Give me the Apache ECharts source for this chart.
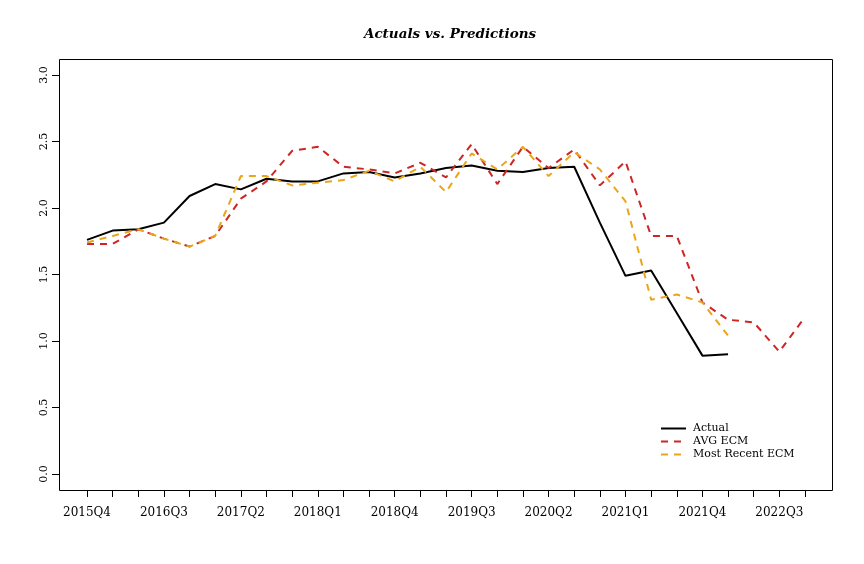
<!DOCTYPE html>
<html>
<head>
<meta charset="utf-8">
<script src="https://cdn.jsdelivr.net/npm/echarts@6/dist/echarts.min.js"></script>
<style>html,body{margin:0;padding:0;background:#fff;}#c{width:864px;height:564px;}</style>
</head>
<body>
<div id="c"></div>
<script>
var categories = ['2015Q4','2016Q1','2016Q2','2016Q3','2016Q4','2017Q1','2017Q2','2017Q3','2017Q4',
  '2018Q1','2018Q2','2018Q3','2018Q4','2019Q1','2019Q2','2019Q3','2019Q4','2020Q1','2020Q2','2020Q3','2020Q4',
  '2021Q1','2021Q2','2021Q3','2021Q4','2022Q1','2022Q2','2022Q3','2022Q4'];
var actual = [1.76,1.83,1.84,1.89,2.09,2.18,2.14,2.22,2.20,2.20,2.26,2.27,2.23,2.26,2.30,2.32,2.28,2.27,2.30,2.31,1.89,1.49,1.53,1.21,0.89,0.90,null,null,null];
var avgEcm = [1.73,1.73,1.84,1.77,1.71,1.79,2.07,2.20,2.43,2.46,2.31,2.29,2.26,2.34,2.23,2.48,2.18,2.46,2.30,2.44,2.17,2.35,1.79,1.79,1.29,1.16,1.14,0.92,1.18];
var recentEcm = [1.74,1.79,1.84,1.77,1.71,1.79,2.24,2.24,2.17,2.19,2.21,2.28,2.20,2.31,2.12,2.41,2.29,2.46,2.24,2.42,2.29,2.05,1.31,1.35,1.29,1.04,null,null,null];
var yTicks = [0, 0.5, 1.0, 1.5, 2.0, 2.5, 3.0];

function pairs(arr){
  var out = [];
  for (var i = 0; i < arr.length; i++) { if (arr[i] !== null) out.push([i, arr[i]]); }
  return out;
}
var serif = 'DejaVu Serif';
var chart = echarts.init(document.getElementById('c'), null, {renderer:'canvas'});
chart.setOption({
  backgroundColor: '#ffffff',
  animation: false,
  title: {
    text: 'Actuals vs. Predictions',
    left: 445, top: 22, textAlign: 'center',
    textStyle: {fontFamily: serif, fontStyle: 'italic', fontWeight: 'bold', fontSize: 13.5, color: '#000'}
  },
  legend: {
    orient: 'vertical', left: 655, top: 418, itemWidth: 25, itemHeight: 12, itemGap: 2,
    itemStyle: {opacity: 0},
    textStyle: {fontFamily: serif, fontSize: 11, color: '#000', padding: [0,0,0,2]},
    data: ['Actual','AVG ECM','Most Recent ECM']
  },
  grid: {left: 87, right: 59, top: 75, bottom: 90},
  xAxis: {
    type: 'value', min: 0, max: categories.length - 1, interval: 1, offset: 16,
    axisLine: {show: true, onZero: false, lineStyle: {color: '#000', width: 1}},
    axisTick: {show: true, length: 7, lineStyle: {color: '#000'}},
    splitLine: {show: false},
    axisLabel: {
      margin: 17, fontFamily: serif, fontSize: 12, color: '#000', showMinLabel: true, showMaxLabel: true,
      formatter: function(v){ return (v % 3 === 0) ? categories[v] : ''; }
    }
  },
  yAxis: {
    type: 'value', min: yTicks[0], max: yTicks[yTicks.length-1], interval: 0.5, offset: 28,
    axisLine: {show: true, onZero: false, lineStyle: {color: '#000', width: 1}},
    axisTick: {show: true, length: 7, lineStyle: {color: '#000'}},
    splitLine: {show: false},
    axisLabel: {margin: 9, rotate: 90, fontFamily: serif, fontSize: 11, color: '#000',
      formatter: function(v){ return v.toFixed(1); }}
  },
  graphic: [{
    type: 'rect', shape: {x: 59.5, y: 59.5, width: 773, height: 431},
    style: {fill: 'none', stroke: '#000', lineWidth: 1}, silent: true, z: 10
  }],
  series: [
    {name: 'Actual', type: 'line', data: pairs(actual), showSymbol: false, symbol: 'none',
     lineStyle: {color: '#000000', width: 2}, itemStyle: {color: '#000000'}},
    {name: 'AVG ECM', type: 'line', data: pairs(avgEcm), showSymbol: false, symbol: 'none',
     lineStyle: {color: '#CD2626', width: 2, type: [7, 6]}, itemStyle: {color: '#CD2626'}},
    {name: 'Most Recent ECM', type: 'line', data: pairs(recentEcm), showSymbol: false, symbol: 'none',
     lineStyle: {color: '#EBA51A', width: 2, type: [7, 6]}, itemStyle: {color: '#EBA51A'}}
  ]
});
</script>
</body>
</html>
